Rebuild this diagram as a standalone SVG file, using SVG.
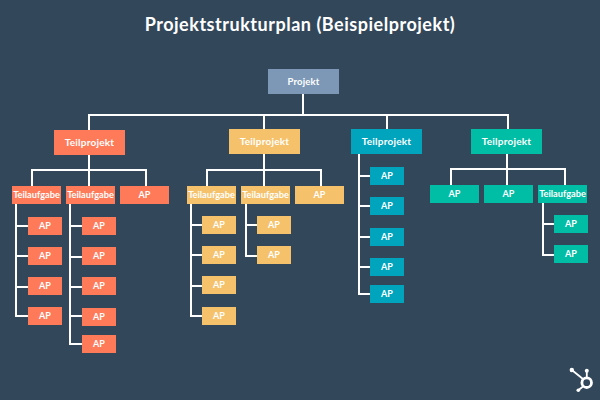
<svg xmlns="http://www.w3.org/2000/svg" width="600" height="400" viewBox="0 0 600 400">
<style>
text{font-family:Lato,"Open Sans","Liberation Sans",sans-serif;fill:#fff;text-anchor:middle}
.title{font-size:18px;font-weight:700;letter-spacing:.52px}
.l1{font-size:10px;font-weight:700;letter-spacing:.2px}
.l0{font-size:9.500px;font-weight:700;letter-spacing:.2px}
.l2{font-size:9.200px;font-weight:700}
.ap{font-size:9px;font-weight:700}
.o{fill:#ff7a59}.y{fill:#f5c26b}.b{fill:#00a4bd}.g{fill:#00bda5}.p{fill:#7c98b6}
#connectors path{fill:none;stroke:#fff;stroke-width:2}
</style>
<rect width="600" height="400" fill="#33475b"/>
<text class="title" x="300" y="31">Projektstrukturplan (Beispielprojekt)</text>
<g id="connectors">
<path d="M303 94V115M89 130V115H508V129M264 115V129M387 115V129"/>
<path d="M89 155V170M32 186V170H146V186M89 170V186"/>
<path d="M264 154V170M207 186V170H321V186M264 170V186"/>
<path d="M507 154V169M451 185V169H565V185M507 169V185"/>
<path d="M359 154V295M359 176H370M359 206H370M359 237H370M359 267H370M359 294H370"/>
<path d="M16 204V316H28M16 226H28M16 256H28M16 287H28"/>
<path d="M70 204V344H82M70 226H82M70 257H82M70 287H82M70 316H82"/>
<path d="M191 204V316H202M191 225H202M191 255H202M191 286H202"/>
<path d="M246 204V256H257M246 225H257"/>
<path d="M543 203V255H554M543 224H554"/>
</g>
<g id="projekt"><rect class="p" x="268" y="69" width="71" height="25"/><text class="l0" x="303.500" y="85">Projekt</text></g>
<g id="tp1"><rect class="o" x="54" y="130" width="71" height="25"/><text class="l1" x="89.500" y="146">Teilprojekt</text></g>
<g id="tp2"><rect class="y" x="229" y="129" width="71" height="25"/><text class="l1" x="264.500" y="145">Teilprojekt</text></g>
<g id="tp3"><rect class="b" x="351" y="129" width="71" height="25"/><text class="l1" x="386.500" y="145">Teilprojekt</text></g>
<g id="tp4"><rect class="g" x="471" y="129" width="71" height="25"/><text class="l1" x="506.500" y="145">Teilprojekt</text></g>

<g id="o-ta1"><rect class="o" x="12" y="186" width="49" height="18"/><text class="l2" x="36.500" y="198">Teilaufgabe</text></g>
<g id="o-ta2"><rect class="o" x="66" y="186" width="49" height="18"/><text class="l2" x="90.500" y="198">Teilaufgabe</text></g>
<g id="o-ap"><rect class="o" x="120" y="186" width="49" height="18"/><text class="ap" x="144.500" y="198">AP</text></g>
<g id="y-ta1"><rect class="y" x="187" y="186" width="49" height="18"/><text class="l2" x="211.500" y="198">Teilaufgabe</text></g>
<g id="y-ta2"><rect class="y" x="241" y="186" width="49" height="18"/><text class="l2" x="265.500" y="198">Teilaufgabe</text></g>
<g id="y-ap"><rect class="y" x="295" y="186" width="49" height="18"/><text class="ap" x="319.500" y="198">AP</text></g>
<g id="g-ap1"><rect class="g" x="430" y="185" width="49" height="18"/><text class="ap" x="454.500" y="197">AP</text></g>
<g id="g-ap2"><rect class="g" x="484" y="185" width="49" height="18"/><text class="ap" x="508.500" y="197">AP</text></g>
<g id="g-ta"><rect class="g" x="538" y="185" width="49" height="18"/><text class="l2" x="562.500" y="197">Teilaufgabe</text></g>

<g id="o1a"><rect class="o" x="28" y="217" width="34" height="18"/><text class="ap" x="45" y="229">AP</text></g>
<g id="o1b"><rect class="o" x="28" y="247" width="34" height="18"/><text class="ap" x="45" y="259">AP</text></g>
<g id="o1c"><rect class="o" x="28" y="277" width="34" height="18"/><text class="ap" x="45" y="289">AP</text></g>
<g id="o1d"><rect class="o" x="28" y="307" width="34" height="18"/><text class="ap" x="45" y="319">AP</text></g>
<g id="o2a"><rect class="o" x="82" y="217" width="34" height="18"/><text class="ap" x="99" y="229">AP</text></g>
<g id="o2b"><rect class="o" x="82" y="247" width="34" height="18"/><text class="ap" x="99" y="259">AP</text></g>
<g id="o2c"><rect class="o" x="82" y="277" width="34" height="18"/><text class="ap" x="99" y="289">AP</text></g>
<g id="o2d"><rect class="o" x="82" y="308" width="34" height="18"/><text class="ap" x="99" y="320">AP</text></g>
<g id="o2e"><rect class="o" x="82" y="335" width="34" height="18"/><text class="ap" x="99" y="347">AP</text></g>
<g id="y1a"><rect class="y" x="202" y="216" width="34" height="18"/><text class="ap" x="219" y="228">AP</text></g>
<g id="y1b"><rect class="y" x="202" y="246" width="34" height="18"/><text class="ap" x="219" y="258">AP</text></g>
<g id="y1c"><rect class="y" x="202" y="276" width="34" height="18"/><text class="ap" x="219" y="288">AP</text></g>
<g id="y1d"><rect class="y" x="202" y="307" width="34" height="18"/><text class="ap" x="219" y="319">AP</text></g>
<g id="y2a"><rect class="y" x="257" y="216" width="34" height="18"/><text class="ap" x="274" y="228">AP</text></g>
<g id="y2b"><rect class="y" x="257" y="246" width="34" height="18"/><text class="ap" x="274" y="258">AP</text></g>
<g id="b1"><rect class="b" x="370" y="167" width="34" height="18"/><text class="ap" x="387" y="179">AP</text></g>
<g id="b2"><rect class="b" x="370" y="197" width="34" height="18"/><text class="ap" x="387" y="209">AP</text></g>
<g id="b3"><rect class="b" x="370" y="228" width="34" height="18"/><text class="ap" x="387" y="240">AP</text></g>
<g id="b4"><rect class="b" x="370" y="258" width="34" height="18"/><text class="ap" x="387" y="270">AP</text></g>
<g id="b5"><rect class="b" x="370" y="285" width="34" height="18"/><text class="ap" x="387" y="297">AP</text></g>
<g id="g1a"><rect class="g" x="554" y="215" width="34" height="18"/><text class="ap" x="571" y="227">AP</text></g>
<g id="g1b"><rect class="g" x="554" y="245" width="34" height="18"/><text class="ap" x="571" y="257">AP</text></g>

<g id="logo" fill="#fff" stroke="#fff">
<circle cx="586.700" cy="382.700" r="4.800" fill="none" stroke-width="2.800"/>
<circle cx="571.800" cy="370" r="2.200" stroke="none"/>
<circle cx="586.800" cy="370.700" r="2" stroke="none"/>
<circle cx="578.300" cy="390.300" r="1.800" stroke="none"/>
<path d="M571.800 370L583 379M586.800 371V377M578.300 390.300L583 386.500" fill="none" stroke-width="1.800"/>
</g>
</svg>
